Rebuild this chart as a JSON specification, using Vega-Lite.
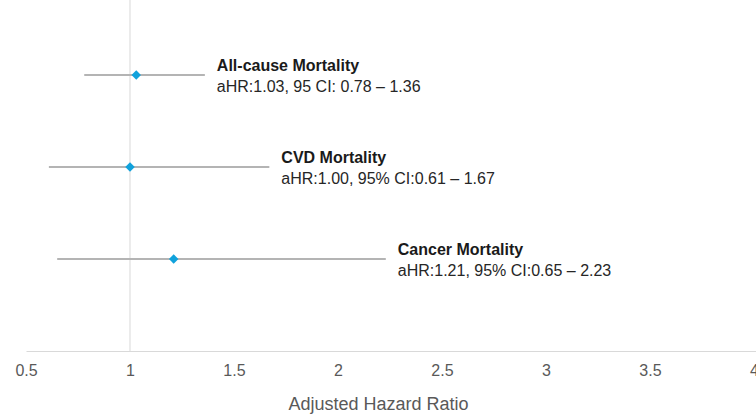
{
  "$schema": "https://vega.github.io/schema/vega-lite/v6.json",
  "width": 730,
  "height": 351,
  "autosize": {"type": "none"},
  "padding": {"left": 26, "top": 0, "right": 0, "bottom": 67},
  "background": "white",
  "config": {"view": {"stroke": null}, "font": "Liberation Sans"},
  "data": {"values": [
    {"outcome": "All-cause Mortality", "hr": 1.03, "lo": 0.78, "hi": 1.36, "row": 3, "detail": "aHR:1.03, 95 CI: 0.78 – 1.36"},
    {"outcome": "CVD Mortality", "hr": 1.00, "lo": 0.61, "hi": 1.67, "row": 2, "detail": "aHR:1.00, 95% CI:0.61 – 1.67"},
    {"outcome": "Cancer Mortality", "hr": 1.21, "lo": 0.65, "hi": 2.23, "row": 1, "detail": "aHR:1.21, 95% CI:0.65 – 2.23"}
  ]},
  "encoding": {
    "y": {"field": "row", "type": "quantitative", "scale": {"domain": [0, 3.815], "nice": false, "zero": false}, "axis": null}
  },
  "layer": [
    {
      "data": {"values": [{"ref": 1}]},
      "mark": {"type": "rule", "color": "#d9d9d9", "strokeWidth": 1},
      "encoding": {"x": {"field": "ref", "type": "quantitative"}, "y": null}
    },
    {
      "mark": {"type": "rule", "color": "#b4b4b4", "strokeWidth": 2},
      "encoding": {
        "x": {"field": "lo", "type": "quantitative",
          "scale": {"domain": [0.5, 4.01], "nice": false, "zero": false},
          "axis": {"values": [0.5, 1, 1.5, 2, 2.5, 3, 3.5, 4], "format": "~g", "grid": false, "ticks": false,
            "labelFlush": false, "labelBound": false, "labelOverlap": false,
            "domainColor": "#d9d9d9", "domainWidth": 1,
            "labelFontSize": 16, "labelColor": "#595959", "labelPadding": 11, "labelFont": "Liberation Sans",
            "title": "Adjusted Hazard Ratio", "titleFontSize": 18, "titleFontWeight": "normal", "titleColor": "#595959",
            "titlePadding": 17, "titleFont": "Liberation Sans", "titleX": 352, "titleAnchor": "middle", "titleAlign": "center"}},
        "x2": {"field": "hi"}
      }
    },
    {
      "mark": {"type": "point", "shape": "diamond", "filled": true, "color": "#10a2dc", "size": 90, "opacity": 1},
      "encoding": {"x": {"field": "hr", "type": "quantitative"}}
    },
    {
      "mark": {"type": "text", "align": "left", "baseline": "middle", "dx": 12, "dy": -9, "fontWeight": "bold", "fontSize": 16, "color": "#1a1a1a"},
      "encoding": {"x": {"field": "hi", "type": "quantitative"}, "text": {"field": "outcome"}}
    },
    {
      "mark": {"type": "text", "align": "left", "baseline": "middle", "dx": 12, "dy": 12, "fontSize": 16, "color": "#262626"},
      "encoding": {"x": {"field": "hi", "type": "quantitative"}, "text": {"field": "detail"}}
    }
  ]
}
